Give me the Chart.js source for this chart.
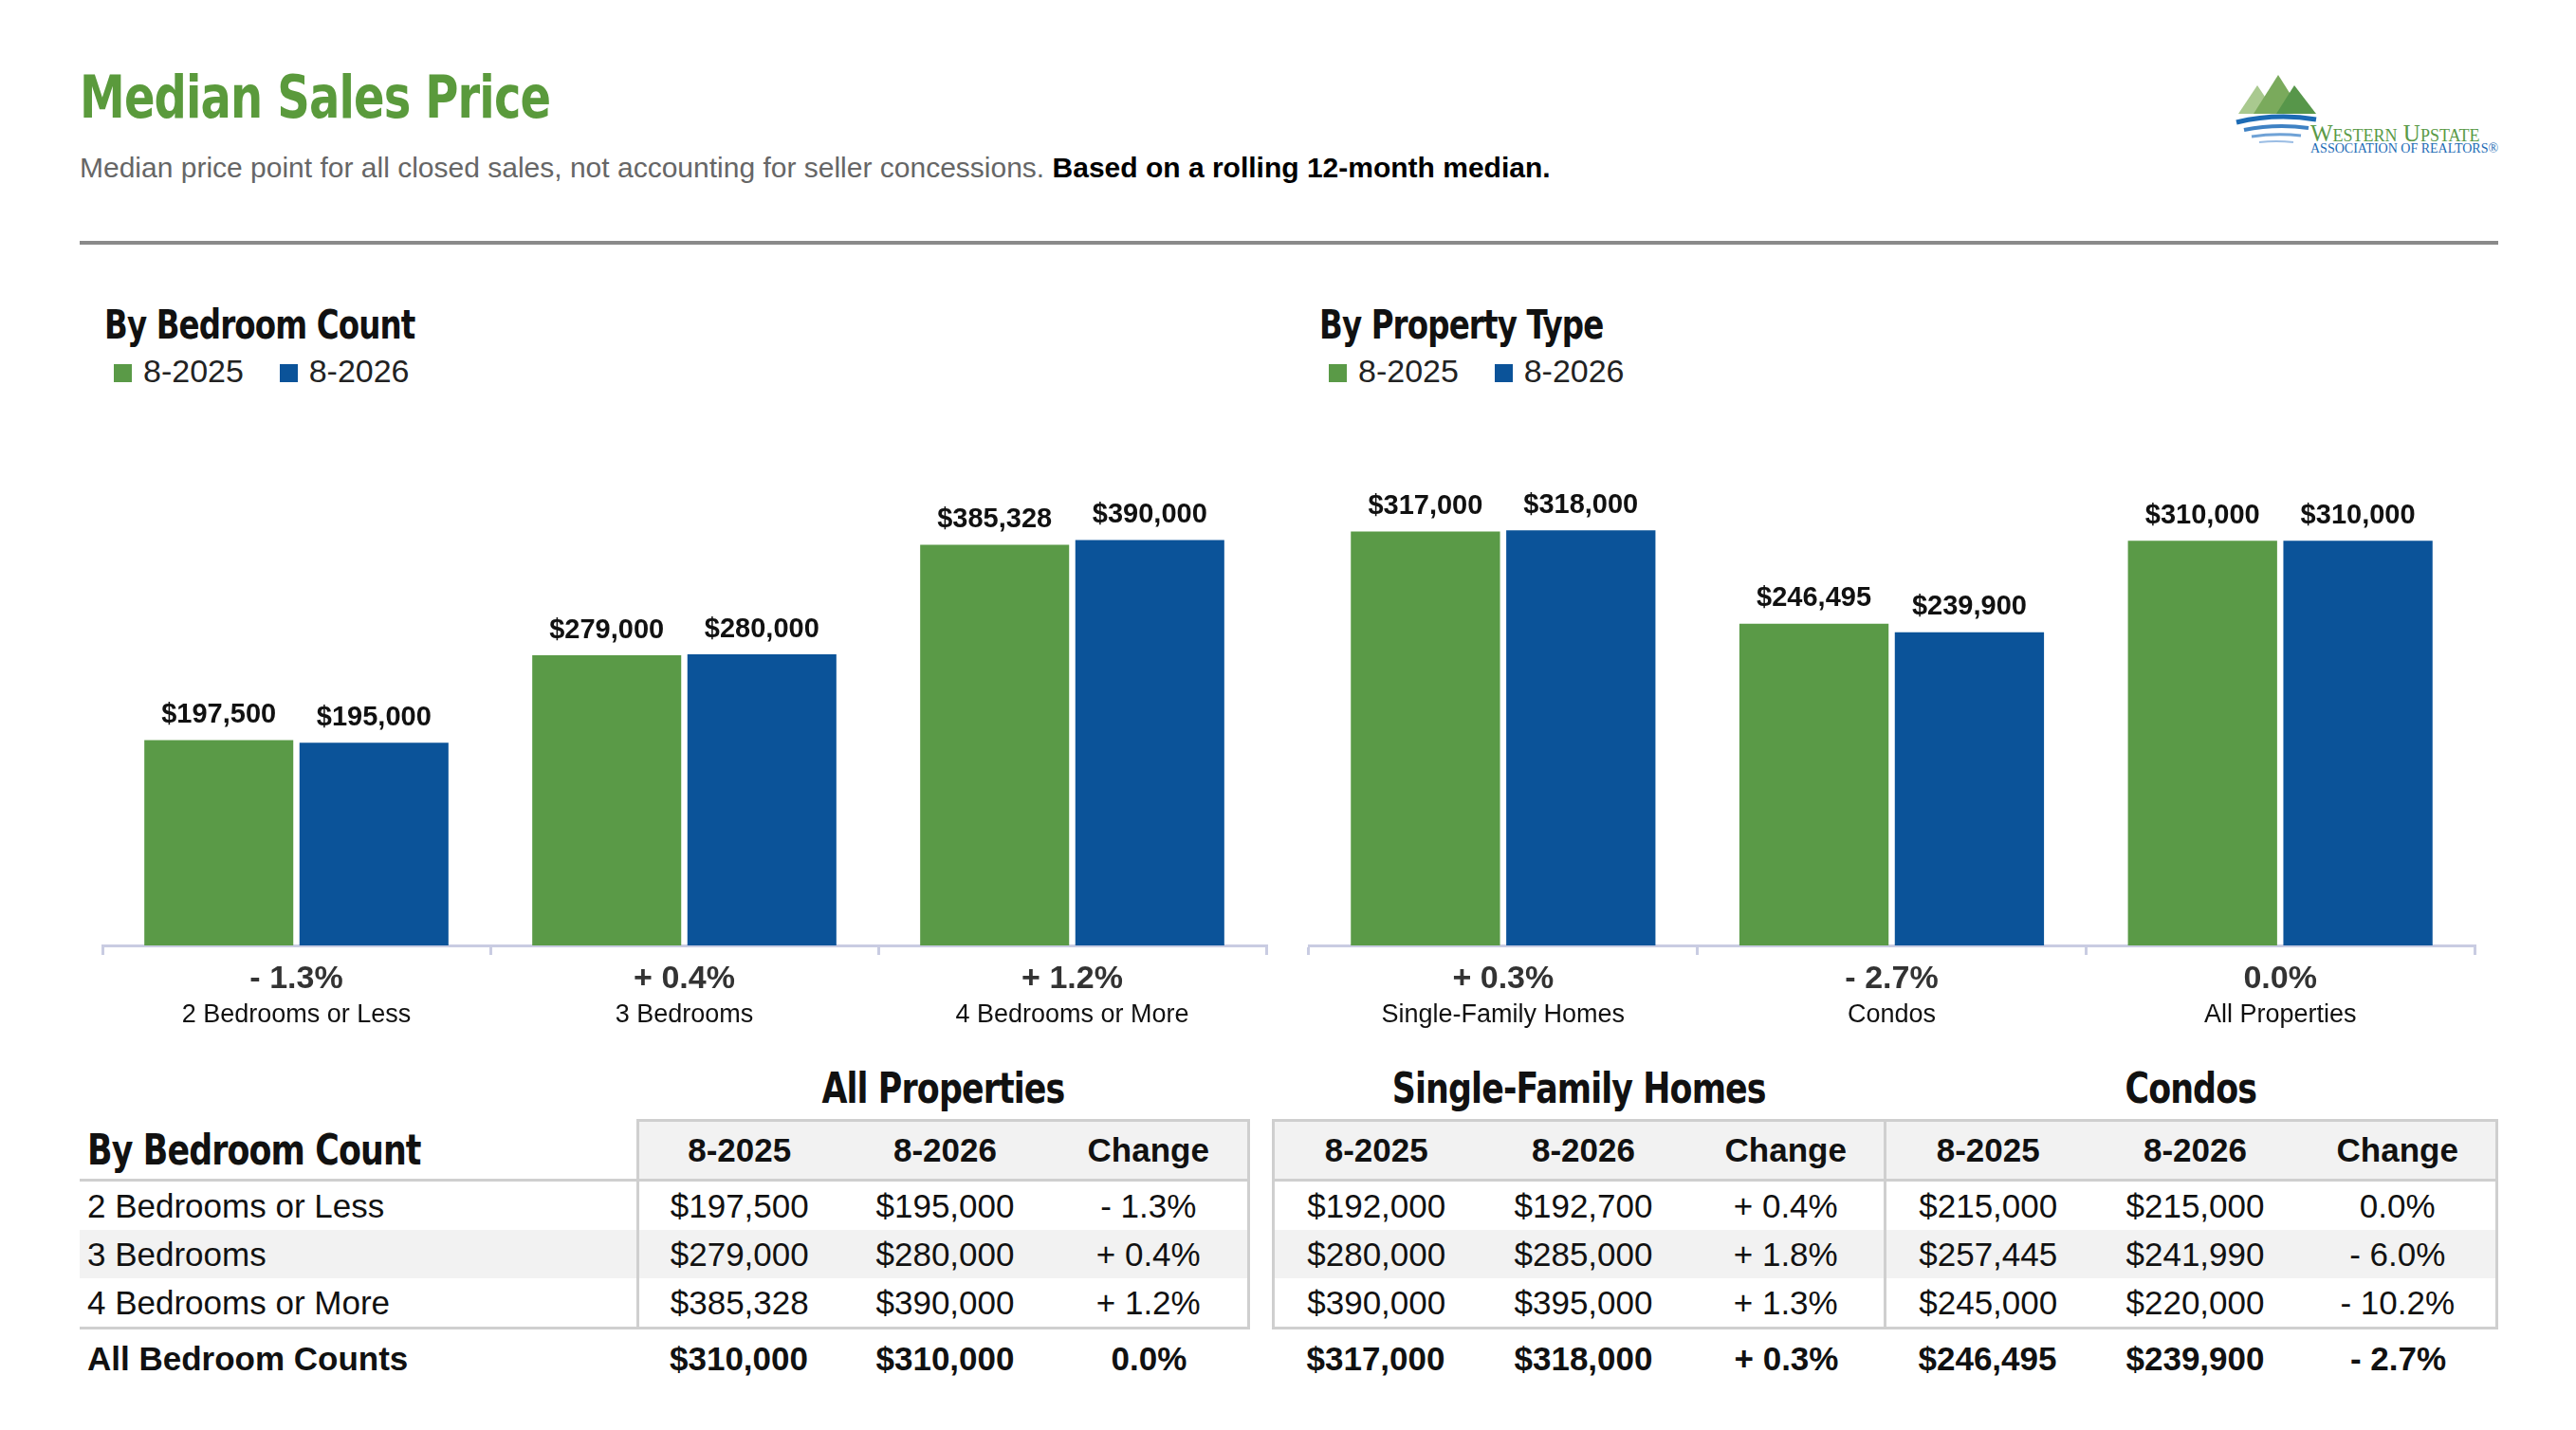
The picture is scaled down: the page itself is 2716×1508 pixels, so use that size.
<!DOCTYPE html>
<html>
<head>
<meta charset="utf-8">
<script src="https://cdn.jsdelivr.net/npm/chart.js@4"></script>
<style>
  body { margin: 0; width: 2716px; height: 1508px; background: #fff; font-family: 'Liberation Sans', Arial, sans-serif; position: relative; overflow: hidden; }
  .cond { font-family: 'DejaVu Sans Condensed', 'DejaVu Sans', sans-serif; font-weight: bold; letter-spacing: -1px; }
  #title { position: absolute; left: 84px; top: 66px; font-size: 62px; color: #5a9a3c; transform: scaleX(0.86); transform-origin: left; }
  #sub { position: absolute; left: 84px; top: 160px; font-size: 30px; color: #666; }
  #sub b { color: #000; }
  #rule { position: absolute; left: 84px; top: 254px; width: 2562px; height: 4px; background: #8a8a8a; }
  .sec { position: absolute; font-size: 42px; color: #111; transform: scaleX(0.86); transform-origin: left; }
  .leg { position: absolute; font-size: 34px; color: #222; }
  .leg span { display: inline-block; width: 19px; height: 19px; margin-right: 12px; }
  .box { position: absolute; }
  #logo { position: absolute; left: 2350px; top: 56px; }
  table { position: absolute; left: 84px; top: 1114px; border-collapse: collapse; font-size: 35px; color: #111; }
  td { height: 51px; padding: 0 10px; text-align: center; }
  td.l { text-align: left; padding-left: 8px; }
  .grp td { height: 66px; font-size: 44px; }
  .grp td span, .hd td.cond span { display: inline-block; transform: scaleX(0.88); }
  .hd td { height: 60px; font-weight: bold; }
  .alt td { background: #f2f2f2; }
  .tot td { font-weight: bold; height: 62px; }
</style>
</head>
<body>
<div id="title" class="cond">Median Sales Price</div>
<div id="sub">Median price point for all closed sales, not accounting for seller concessions. <b>Based on a rolling 12-month median.</b></div>
<div id="rule" style="width:2550px"></div>
<svg id="logo" width="300" height="110" viewBox="0 0 300 110">
  <polygon points="10,64 30,34 50,64" fill="#a9c98f"/>
  <polygon points="26,64 52,23 78,64" fill="#7aaa5c"/>
  <polygon points="50,64 69,34 92,64" fill="#57964a"/>
  <path d="M8,73 Q50,63 92,70" stroke="#1c6bb5" stroke-width="5" fill="none"/>
  <path d="M16,81 Q50,74 84,79" stroke="#3f82c4" stroke-width="4" fill="none"/>
  <path d="M24,88 Q50,84 76,87" stroke="#6fa2d6" stroke-width="3" fill="none"/>
  <path d="M32,94 Q50,92 68,94" stroke="#9bbde4" stroke-width="2" fill="none"/>
  <text x="86" y="93" font-family="Liberation Serif" font-size="25" fill="#5a9a47" style="font-variant: small-caps">Western Upstate</text>
  <text x="86" y="105" font-family="Liberation Serif" font-size="14" fill="#1c6bb5">ASSOCIATION OF REALTORS®</text>
</svg>

<div class="sec cond" style="left:110px;top:318px">By Bedroom Count</div>
<div class="leg" style="left:120px;top:372px"><span style="background:#5a9a47"></span>8-2025 &nbsp;&nbsp;&nbsp;<span style="background:#0b5399"></span>8-2026</div>
<div class="sec cond" style="left:1391px;top:318px">By Property Type</div>
<div class="leg" style="left:1401px;top:372px"><span style="background:#5a9a47"></span>8-2025 &nbsp;&nbsp;&nbsp;<span style="background:#0b5399"></span>8-2026</div>

<div class="box" style="left:98px;top:394px;width:1247px;height:710px"><canvas id="bed"></canvas></div>
<div class="box" style="left:1370px;top:394px;width:1249px;height:710px"><canvas id="prop"></canvas></div>

<table id="tbl"></table>

<script>
const bedLabels = ['2 Bedrooms or Less', '3 Bedrooms', '4 Bedrooms or More'];
const bed2025 = [197500, 279000, 385328];
const bed2026 = [195000, 280000, 390000];
const bedChange = ['- 1.3%', '+ 0.4%', '+ 1.2%'];

const propLabels = ['Single-Family Homes', 'Condos', 'All Properties'];
const prop2025 = [317000, 246495, 310000];
const prop2026 = [318000, 239900, 310000];
const propChange = ['+ 0.3%', '- 2.7%', '0.0%'];

const groupNames = ['All Properties', 'Single-Family Homes', 'Condos'];
const rowLabels = ['2 Bedrooms or Less', '3 Bedrooms', '4 Bedrooms or More', 'All Bedroom Counts'];
const allRows = [['$197,500', '$195,000', '- 1.3%'], ['$279,000', '$280,000', '+ 0.4%'], ['$385,328', '$390,000', '+ 1.2%'], ['$310,000', '$310,000', '0.0%']];
const sfRows = [['$192,000', '$192,700', '+ 0.4%'], ['$280,000', '$285,000', '+ 1.8%'], ['$390,000', '$395,000', '+ 1.3%'], ['$317,000', '$318,000', '+ 0.3%']];
const condoRows = [['$215,000', '$215,000', '0.0%'], ['$257,445', '$241,990', '- 6.0%'], ['$245,000', '$220,000', '- 10.2%'], ['$246,495', '$239,900', '- 2.7%']];

const GREEN = '#5a9a47', BLUE = '#0b5399';

// value labels above bars + two-line category labels below axis
const labelPlugin = {
  id: 'labels',
  afterDatasetsDraw(chart, args, opts) {
    const ctx = chart.ctx;
    ctx.save();
    ctx.fillStyle = '#111';
    ctx.font = "bold 29px 'Liberation Sans', Arial";
    ctx.textAlign = 'center';
    ctx.textBaseline = 'bottom';
    chart.data.datasets.forEach((ds, i) => {
      chart.getDatasetMeta(i).data.forEach((bar, j) => {
        ctx.fillText('$' + ds.data[j].toLocaleString('en-US'), bar.x, bar.y - 12);
      });
    });
    const xs = chart.scales.x, bottom = chart.chartArea.bottom;
    chart.data.labels.forEach((lab, j) => {
      const x = xs.getPixelForValue(j);
      ctx.fillStyle = '#333';
      ctx.font = "bold 34px 'Liberation Sans', Arial";
      ctx.textBaseline = 'middle';
      ctx.fillText(opts.change[j], x, bottom + 36);
      ctx.fillStyle = '#111';
      ctx.font = "27px 'Liberation Sans', Arial";
      ctx.fillText(lab, x, bottom + 74);
    });
    ctx.restore();
  }
};

function makeChart(id, labels, a, b, change, max) {
  new Chart(document.getElementById(id), {
    type: 'bar',
    data: {
      labels: labels,
      datasets: [
        { label: '8-2025', data: a, backgroundColor: GREEN },
        { label: '8-2026', data: b, backgroundColor: BLUE }
      ]
    },
    options: {
      responsive: true, maintainAspectRatio: false, animation: false,
      categoryPercentage: 0.8, barPercentage: 0.96,
      layout: { padding: { left: 10, right: 10, top: 0, bottom: 97 } },
      plugins: { legend: { display: false }, tooltip: { enabled: false }, labels: { change: change } },
      scales: {
        y: { display: false, min: 0, max: max },
        x: {
          grid: { offset: true, drawOnChartArea: false, drawTicks: true, tickLength: 10, color: '#c9cce2', lineWidth: 3 },
          border: { color: '#c9cce2', width: 3 },
          ticks: { display: false }
        }
      }
    },
    plugins: [labelPlugin]
  });
}
makeChart('bed', bedLabels, bed2025, bed2026, bedChange, 550000);
makeChart('prop', propLabels, prop2025, prop2026, propChange, 438000);

// table
const groups = [allRows, sfRows, condoRows];
const B = '3px solid #cfcfcf';
let html = '<colgroup><col style="width:588px"><col style="width:214px"><col style="width:221px"><col style="width:209px">' +
  '<col style="width:26px"><col style="width:217px"><col style="width:221px"><col style="width:207px">' +
  '<col style="width:217px"><col style="width:221px"><col style="width:207px"></colgroup>';
html += '<tr class="grp cond"><td></td><td colspan="3"><span>' + groupNames[0] + '</span></td><td></td><td colspan="3"><span>' + groupNames[1] + '</span></td><td colspan="3"><span>' + groupNames[2] + '</span></td></tr>';
const hdCells = g => ['8-2025', '8-2026', 'Change'].map((h, k) =>
  '<td style="background:#f2f2f2;border-top:' + B + ';border-bottom:' + B + (k === 0 ? ';border-left:' + B : '') + (k === 2 ? ';border-right:' + B : '') + '">' + h + '</td>').join('');
html += '<tr class="hd"><td class="l cond" style="font-size:44px;border-bottom:' + B + '"><span style="transform-origin:left">By Bedroom Count</span></td>' + hdCells(0) + '<td></td>' + hdCells(1) + hdCells(2) + '</tr>';
rowLabels.forEach((lab, r) => {
  const tot = r === 3;
  let cls = tot ? 'tot' : (r === 1 ? 'alt' : '');
  const bb = r === 2 ? ';border-bottom:' + B : '';
  html += '<tr class="' + cls + '"><td class="l" style="' + bb + '">' + lab + '</td>';
  groups.forEach((g, gi) => {
    g[r].forEach((v, k) => {
      let st = bb;
      if (!tot && k === 0) st += ';border-left:' + B;
      if (!tot && k === 2) st += ';border-right:' + B;
      html += '<td style="' + st + '">' + v + '</td>';
    });
    if (gi === 0) html += '<td style="background:#fff"></td>';
  });
  html += '</tr>';
});
document.getElementById('tbl').innerHTML = html;
</script>
</body>
</html>
